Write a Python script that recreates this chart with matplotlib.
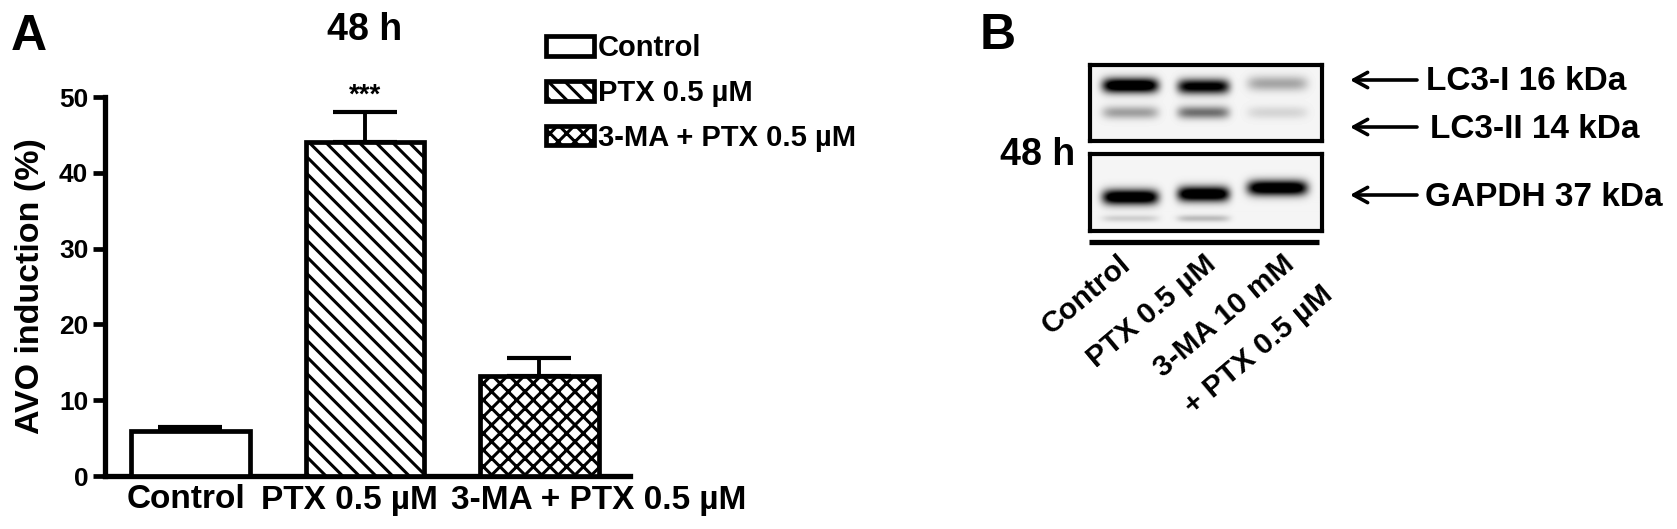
import numpy as np
import matplotlib
matplotlib.use('Agg')
import matplotlib.pyplot as plt

plt.rcParams['font.family'] = ['Liberation Sans', 'DejaVu Sans']
plt.rcParams['font.weight'] = 'bold'
plt.rcParams['axes.labelweight'] = 'bold'
plt.rcParams['hatch.linewidth'] = 2.2

W, H = 1677, 529

# panel A
groups = ['Control', 'PTX 0.5 µM', '3-MA + PTX 0.5 µM']
avo_mean = [6.0, 44.0, 13.2]
avo_err = [0.4, 4.0, 2.4]
hatches = ['', '\\\\', 'xx']
y_ticks = [0, 10, 20, 30, 40, 50]
label_shift_px = [-4, -15, 59]

# panel B
lanes = ['Control', 'PTX 0.5 µM', '3-MA 10 mM', '+ PTX 0.5 µM']
lane_centre = [1130, 1203, 1277]
lane_halfwidth = [28, 26, 30]
lc3_i_y = [85, 86, 83]
lc3_i_dark = [1.0, 0.85, 0.25]
lc3_ii_y = [112, 112, 112]
lc3_ii_dark = [0.27, 0.42, 0.1]
gapdh_y = [197, 194, 188]
gapdh_dark = [1.0, 1.0, 1.0]
smear_y = [218, 218, 218]
smear_dark = [0.12, 0.18, 0.0]
protein_labels = ['LC3-I 16 kDa', 'LC3-II 14 kDa', 'GAPDH 37 kDa']
arrow_y = [80, 127, 195]
label_x = [1426, 1430, 1425]


def px_axes(left, top, right, bottom, **kw):
    return fig.add_axes([left / W, 1 - bottom / H, (right - left) / W, (bottom - top) / H], **kw)


def blot(box, rows):
    # box in figure pixels, rows = (y list, darkness list, band thickness)
    left, top, right, bottom = box
    xx, yy = np.meshgrid(np.arange(left, right), np.arange(top, bottom))
    dark = np.zeros(xx.shape)
    for ys, ds, thick in rows:
        for c, hw, y, d in zip(lane_centre, lane_halfwidth, ys, ds):
            dark += d * np.exp(-((xx - c) / hw) ** 6 - ((yy - y) / thick) ** 2)
    ax = px_axes(left, top, right, bottom)
    ax.imshow(0.96 - 0.96 * np.clip(1.3 * dark, 0, 1), cmap='gray', vmin=0, vmax=1, aspect='auto',
              extent=(left, right, bottom, top))
    ax.set_xticks([])
    ax.set_yticks([])
    for s in ax.spines.values():
        s.set_linewidth(3)
    return ax


fig = plt.figure(figsize=(W / 100, H / 100), dpi=100)

# bar chart
ax = px_axes(105, 97, 630, 476)
bars = ax.bar(range(3), avo_mean, width=0.68, facecolor='white', edgecolor='black', linewidth=3.4,
              zorder=3)
for b, h, name in zip(bars, hatches, groups):
    b.set_hatch(h)
    b.set_label(name)
ax.errorbar(range(3), avo_mean, yerr=[[0, 0, 0], avo_err], fmt='none', ecolor='black', elinewidth=2.8,
            capsize=23, capthick=3, zorder=2)
ax.set_xlim(-0.49, 2.52)
ax.set_ylim(0, 50)
ax.set_yticks(y_ticks)
ax.set_xticks([])
for i, (name, dx) in enumerate(zip(groups, label_shift_px)):
    ax.annotate(name, xy=(i, 0), xycoords=('data', 'axes fraction'), xytext=(dx, -24),
                textcoords='offset pixels', ha='center', va='center', fontsize=24)
ax.tick_params(axis='y', length=9, width=3.4, labelsize=19, pad=3)
ax.set_ylabel('AVO induction (%)', fontsize=24.5, labelpad=9)
ax.spines[['top', 'right']].set_visible(False)
ax.spines[['left', 'bottom']].set_linewidth(3.8)
ax.text(1, 50.2, '***', ha='center', va='center', fontsize=20)
leg = ax.legend(handles=list(bars), loc='upper left', bbox_to_anchor=(0.84, 1.165), frameon=False, fontsize=21,
                handlelength=1.65, handleheight=0.65, handletextpad=0.12, labelspacing=0.57, borderpad=0,
                borderaxespad=0)

# western blot
blot((1090, 65, 1322, 141), [(lc3_i_y, lc3_i_dark, 7.5), (lc3_ii_y, lc3_ii_dark, 6.5)])
blot((1090, 154, 1322, 231), [(gapdh_y, gapdh_dark, 7.5), (smear_y, smear_dark, 3.5)])

# text and arrows, in figure pixels
over = fig.add_axes([0, 0, 1, 1], facecolor='none')
over.set_xlim(0, W)
over.set_ylim(H, 0)
over.axis('off')
over.text(11, 50, 'A', fontsize=36, va='baseline')
over.text(980, 49, 'B', fontsize=36, va='baseline')
over.text(365, 30, '48 h', fontsize=27, ha='center', va='center')
over.text(1038, 155, '48 h', fontsize=27, ha='center', va='center')
for y, name, x in zip(arrow_y, protein_labels, label_x):
    over.annotate('', xy=(1350, y), xytext=(1417, y),
                  arrowprops=dict(arrowstyle='->,head_length=1.0,head_width=0.55', color='black', lw=2.6,
                                  shrinkA=0, shrinkB=0))
    over.text(x, y + 2, name, fontsize=24, va='center')
over.plot([1089, 1319], [242, 242], color='black', lw=3.8, solid_capstyle='butt')
for x, y, name in zip([1118, 1203, 1282, 1320], [250, 250, 250, 280], lanes):
    over.text(x, y, name, fontsize=21.5, rotation=40, ha='right', va='top', rotation_mode='anchor')

fig.savefig('out.png', dpi=100)
